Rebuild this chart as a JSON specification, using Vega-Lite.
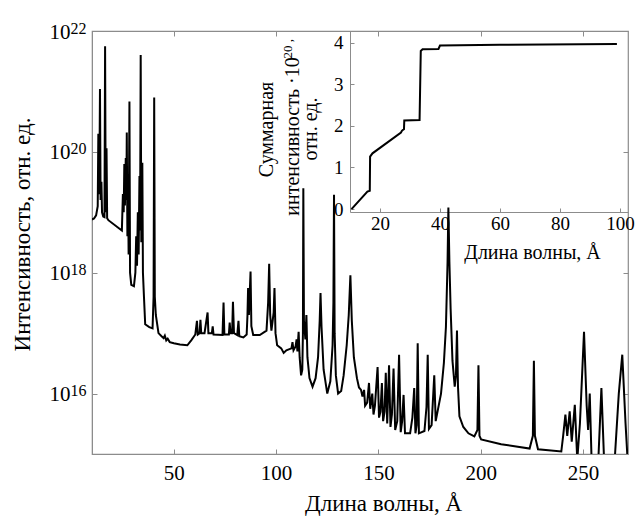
{
  "$schema": "https://vega.github.io/schema/vega-lite/v6.json",
  "width": 536,
  "height": 423,
  "autosize": {"type": "none"},
  "padding": {"left": 92, "top": 31, "right": 11, "bottom": 62},
  "background": "white",
  "config": {
    "view": {"stroke": "#8c8c8c", "strokeWidth": 1.2},
    "font": "Liberation Serif",
    "axis": {"grid": false, "domainColor": "#8c8c8c", "tickColor": "#8c8c8c", "labelColor": "black", "titleColor": "black", "labelFont": "Liberation Serif", "titleFont": "Liberation Serif", "titleFontWeight": "normal"}
  },
  "datasets": {
    "main": [
      {"x": 10.0, "y": 7.6e18}, {"x": 11.0, "y": 7.9e18}, {"x": 12.0, "y": 8.9e18}, {"x": 12.8, "y": 1.26e19},
      {"x": 13.1, "y": 2.0e20}, {"x": 13.35, "y": 2.0e19}, {"x": 13.6, "y": 3.2e19}, {"x": 13.9, "y": 1.1e21},
      {"x": 14.2, "y": 1.6e19}, {"x": 14.6, "y": 3.2e19}, {"x": 14.9, "y": 1.0e19}, {"x": 15.5, "y": 8.5e18},
      {"x": 16.1, "y": 8.3e18}, {"x": 16.4, "y": 5.6e21}, {"x": 16.7, "y": 1.0e19}, {"x": 17.1, "y": 1.15e20},
      {"x": 17.4, "y": 8.0e18}, {"x": 18.0, "y": 7.4e18}, {"x": 24.6, "y": 5.0e18}, {"x": 25.1, "y": 2.0e19},
      {"x": 25.5, "y": 1.0e19}, {"x": 25.8, "y": 6.3e19}, {"x": 26.1, "y": 1.3e19}, {"x": 26.5, "y": 7.9e19},
      {"x": 26.8, "y": 1.6e19}, {"x": 27.0, "y": 2.1e20}, {"x": 27.3, "y": 4.0e18}, {"x": 27.6, "y": 3.2e19},
      {"x": 27.9, "y": 2.0e18}, {"x": 28.3, "y": 6.8e20}, {"x": 28.6, "y": 1.0e18}, {"x": 29.2, "y": 6.3e17},
      {"x": 30.5, "y": 6.0e17}, {"x": 31.2, "y": 1.0e18}, {"x": 31.6, "y": 4.0e18}, {"x": 32.0, "y": 1.3e18},
      {"x": 32.4, "y": 1.0e19}, {"x": 32.8, "y": 2.0e18}, {"x": 33.2, "y": 4.0e19}, {"x": 33.5, "y": 5.0e18},
      {"x": 33.8, "y": 4.0e21}, {"x": 34.1, "y": 3.2e18}, {"x": 34.6, "y": 6.6e19}, {"x": 34.9, "y": 1.0e18},
      {"x": 35.4, "y": 4.0e17}, {"x": 36.0, "y": 1.4e17}, {"x": 38.0, "y": 1.26e17}, {"x": 39.6, "y": 1.2e17},
      {"x": 40.1, "y": 4.0e17}, {"x": 40.4, "y": 7.9e20}, {"x": 40.7, "y": 4.0e17}, {"x": 41.2, "y": 2.0e17},
      {"x": 42.5, "y": 1.0e17}, {"x": 44.0, "y": 8.9e16}, {"x": 45.0, "y": 8.3e16}, {"x": 45.6, "y": 9.1e16},
      {"x": 46.3, "y": 7.6e16}, {"x": 47.0, "y": 8.1e16}, {"x": 48.0, "y": 7.1e16}, {"x": 50.0, "y": 6.8e16},
      {"x": 53.0, "y": 6.5e16}, {"x": 56.6, "y": 6.3e16}, {"x": 58.5, "y": 7.6e16}, {"x": 60.5, "y": 9.5e16},
      {"x": 61.3, "y": 1.6e17}, {"x": 61.7, "y": 9.5e16}, {"x": 62.6, "y": 1.0e17}, {"x": 63.0, "y": 1.66e17},
      {"x": 63.4, "y": 1.0e17}, {"x": 65.0, "y": 1.0e17}, {"x": 66.5, "y": 2.2e17}, {"x": 66.9, "y": 1.0e17},
      {"x": 68.6, "y": 1.0e17}, {"x": 69.0, "y": 1.3e17}, {"x": 69.4, "y": 9.5e16}, {"x": 73.8, "y": 9.3e16},
      {"x": 74.3, "y": 3.2e17}, {"x": 74.7, "y": 9.5e16}, {"x": 76.9, "y": 9.5e16}, {"x": 77.3, "y": 1.5e17},
      {"x": 77.7, "y": 1.0e17}, {"x": 78.5, "y": 1.0e17}, {"x": 78.9, "y": 3.3e17}, {"x": 79.4, "y": 1.0e17},
      {"x": 81.0, "y": 9.3e16}, {"x": 81.6, "y": 1.6e17}, {"x": 82.0, "y": 8.9e16}, {"x": 84.0, "y": 8.5e16},
      {"x": 85.6, "y": 9.5e16}, {"x": 86.0, "y": 2.0e17}, {"x": 86.3, "y": 5.6e17}, {"x": 86.7, "y": 2.0e17},
      {"x": 87.5, "y": 1.05e18}, {"x": 87.9, "y": 1.3e17}, {"x": 88.8, "y": 9.3e16}, {"x": 92.0, "y": 9.3e16},
      {"x": 95.3, "y": 1.1e17}, {"x": 96.1, "y": 3.2e17}, {"x": 96.6, "y": 1.4e18}, {"x": 97.1, "y": 2.0e17},
      {"x": 97.7, "y": 1.1e17}, {"x": 98.3, "y": 1.6e17}, {"x": 98.8, "y": 2.2e17}, {"x": 99.2, "y": 5.6e17},
      {"x": 99.7, "y": 1.0e17}, {"x": 100.5, "y": 6.3e16}, {"x": 102.5, "y": 5.6e16}, {"x": 103.7, "y": 4.7e16},
      {"x": 105.0, "y": 5.2e16}, {"x": 107.5, "y": 5.6e16}, {"x": 108.0, "y": 7.1e16}, {"x": 108.5, "y": 5.2e16},
      {"x": 109.5, "y": 6.0e16}, {"x": 110.0, "y": 7.9e16}, {"x": 110.4, "y": 5.0e16}, {"x": 111.0, "y": 1.05e17},
      {"x": 111.5, "y": 4.0e16}, {"x": 112.2, "y": 2.0e16}, {"x": 112.8, "y": 2.5e16}, {"x": 113.1, "y": 1.0e17},
      {"x": 113.3, "y": 2.5e19}, {"x": 113.6, "y": 1.6e17}, {"x": 114.3, "y": 7.9e16}, {"x": 114.8, "y": 2.0e17},
      {"x": 115.3, "y": 4.0e16}, {"x": 116.3, "y": 1.8e16}, {"x": 117.8, "y": 1.3e16}, {"x": 119.3, "y": 1.8e16},
      {"x": 120.5, "y": 4.0e16}, {"x": 121.3, "y": 1.6e17}, {"x": 121.7, "y": 4.6e17}, {"x": 122.2, "y": 1.26e17},
      {"x": 123.2, "y": 2.5e16}, {"x": 125.0, "y": 1.0e16}, {"x": 126.5, "y": 1.6e16}, {"x": 127.6, "y": 6.3e16},
      {"x": 128.0, "y": 3.2e17}, {"x": 128.3, "y": 1.95e19}, {"x": 128.6, "y": 1.0e17}, {"x": 129.2, "y": 2.0e16},
      {"x": 130.3, "y": 1.0e16}, {"x": 131.8, "y": 1.1e16}, {"x": 133.0, "y": 2.0e16}, {"x": 134.5, "y": 6.3e16},
      {"x": 135.5, "y": 2.0e17}, {"x": 136.3, "y": 9.1e17}, {"x": 137.0, "y": 1.6e17}, {"x": 138.0, "y": 4.0e16},
      {"x": 139.5, "y": 1.8e16}, {"x": 140.5, "y": 1.26e16}, {"x": 141.5, "y": 1.15e16}, {"x": 142.2, "y": 8.9e15},
      {"x": 143.0, "y": 1.15e16}, {"x": 143.5, "y": 6.3e15}, {"x": 144.5, "y": 7.1e15}, {"x": 145.4, "y": 1.5e16},
      {"x": 146.0, "y": 5.6e15}, {"x": 147.0, "y": 1.0e16}, {"x": 147.6, "y": 4.5e15}, {"x": 148.3, "y": 6.3e15},
      {"x": 149.6, "y": 2.75e16}, {"x": 150.3, "y": 4.0e15}, {"x": 151.0, "y": 5.0e15}, {"x": 151.7, "y": 1.5e16},
      {"x": 152.3, "y": 3.5e15}, {"x": 153.0, "y": 5.0e15}, {"x": 153.6, "y": 2.2e16}, {"x": 154.3, "y": 3.2e15},
      {"x": 155.2, "y": 2.95e16}, {"x": 155.9, "y": 2.8e15}, {"x": 156.6, "y": 4.5e15}, {"x": 157.4, "y": 2.6e16},
      {"x": 158.2, "y": 2.5e15}, {"x": 159.2, "y": 3.5e15}, {"x": 160.1, "y": 4.4e16}, {"x": 160.9, "y": 2.3e15},
      {"x": 161.6, "y": 3.5e15}, {"x": 162.3, "y": 9.5e15}, {"x": 163.0, "y": 2.2e15}, {"x": 165.5, "y": 2.2e15},
      {"x": 166.6, "y": 4.0e15}, {"x": 167.5, "y": 1.23e16}, {"x": 168.1, "y": 2.2e15}, {"x": 168.7, "y": 3.0e15},
      {"x": 169.2, "y": 6.8e16}, {"x": 169.8, "y": 2.2e15}, {"x": 172.5, "y": 2.4e15}, {"x": 173.5, "y": 6.0e15},
      {"x": 174.1, "y": 4.4e16}, {"x": 174.7, "y": 2.6e15}, {"x": 176.0, "y": 3.0e15}, {"x": 177.3, "y": 2.0e16},
      {"x": 178.0, "y": 3.5e15}, {"x": 180.6, "y": 1.0e16}, {"x": 182.0, "y": 3.2e16}, {"x": 183.0, "y": 1.26e17},
      {"x": 183.8, "y": 1.5e18}, {"x": 184.2, "y": 1.2e19}, {"x": 184.7, "y": 1.5e18}, {"x": 185.3, "y": 2.5e17},
      {"x": 186.2, "y": 3.5e16}, {"x": 187.3, "y": 1.3e16}, {"x": 187.9, "y": 2.0e16}, {"x": 188.4, "y": 1.1e17},
      {"x": 188.9, "y": 1.3e16}, {"x": 189.6, "y": 4.2e15}, {"x": 191.5, "y": 2.8e15}, {"x": 194.0, "y": 2.2e15},
      {"x": 196.9, "y": 1.95e15}, {"x": 198.4, "y": 2.5e15}, {"x": 198.9, "y": 2.95e16}, {"x": 199.4, "y": 2.0e15},
      {"x": 200.2, "y": 1.74e15}, {"x": 210.0, "y": 1.45e15}, {"x": 223.9, "y": 1.23e15}, {"x": 225.5, "y": 2.0e15},
      {"x": 226.0, "y": 3.5e16}, {"x": 226.5, "y": 2.0e15}, {"x": 228.0, "y": 1.2e15}, {"x": 239.4, "y": 1.1e15},
      {"x": 240.3, "y": 2.0e15}, {"x": 241.4, "y": 4.5e15}, {"x": 242.3, "y": 2.0e15}, {"x": 243.5, "y": 5.1e15},
      {"x": 244.5, "y": 1.6e15}, {"x": 246.0, "y": 6.5e15}, {"x": 247.2, "y": 8e14}, {"x": 248.5, "y": 3.2e15},
      {"x": 250.5, "y": 1.05e17}, {"x": 251.8, "y": 6.3e15}, {"x": 252.5, "y": 2.5e15}, {"x": 253.3, "y": 1.0e16},
      {"x": 254.2, "y": 8e14}, {"x": 257.5, "y": 8e14}, {"x": 259.0, "y": 1.23e16}, {"x": 260.3, "y": 8e14},
      {"x": 265.5, "y": 8e14}, {"x": 267.5, "y": 1.0e16}, {"x": 269.2, "y": 4.4e16}, {"x": 270.8, "y": 3.2e15},
      {"x": 271.8, "y": 8e14}
    ],
    "inset": [
      {"x": 10.5, "y": 0}, {"x": 15.8, "y": 0.42}, {"x": 16.6, "y": 0.44}, {"x": 16.7, "y": 1.26},
      {"x": 17.5, "y": 1.34}, {"x": 27.0, "y": 1.84}, {"x": 27.3, "y": 1.88}, {"x": 27.6, "y": 1.9},
      {"x": 28.0, "y": 1.92}, {"x": 28.1, "y": 2.13}, {"x": 33.2, "y": 2.14}, {"x": 33.6, "y": 3.8},
      {"x": 34.2, "y": 3.84}, {"x": 39.5, "y": 3.85}, {"x": 40.0, "y": 3.93}, {"x": 60.0, "y": 3.95},
      {"x": 99.0, "y": 3.97}
    ]
  },
  "layer": [
    {
      "data": {"name": "main"},
      "mark": {"type": "line", "color": "black", "strokeWidth": 2, "clip": true},
      "encoding": {
        "x": {"field": "x", "type": "quantitative",
          "scale": {"domain": [10, 272], "nice": false, "zero": false},
          "axis": {"orient": "bottom", "values": [50, 100, 150, 200, 250], "tickSize": -5, "labelFontSize": 21, "labelPadding": 13,
            "title": "Длина волны, Å", "titleFontSize": 23, "titleX": 291, "titleY": 56, "titleBaseline": "alphabetic", "titleAlign": "center"}},
        "y": {"field": "y", "type": "quantitative",
          "scale": {"type": "log", "domain": [1e15, 1e22], "nice": false},
          "axis": {"orient": "left", "values": [1e16, 1e18, 1e20, 1e22], "tickSize": -5, "labelFontSize": 21, "labelPadding": 27,
            "labelExpr": "'10'", "labelOffset": 1, "labelBaseline": "middle",
            "title": "Интенсивность, отн. ед.", "titleFontSize": 23, "titleX": -63, "titleY": 203, "titleAngle": -90, "titleBaseline": "alphabetic", "titleAlign": "center"}}
      }
    },
    {
      "data": {"name": "main"},
      "mark": {"type": "point", "opacity": 0},
      "encoding": {
        "x": {"field": "x", "type": "quantitative",
          "scale": {"domain": [10, 272], "nice": false, "zero": false},
          "axis": {"orient": "top", "values": [50, 100, 150, 200, 250], "tickSize": -5, "labels": false, "domain": false, "title": null}},
        "y": {"field": "y", "type": "quantitative",
          "scale": {"type": "log", "domain": [1e15, 1e22], "nice": false},
          "axis": {"orient": "right", "values": [1e16, 1e18, 1e20, 1e22], "tickSize": -5, "labels": false, "domain": false, "title": null}}
      }
    },
    {
      "data": {"name": "inset"},
      "mark": {"type": "line", "color": "black", "strokeWidth": 2},
      "encoding": {
        "x": {"field": "x", "type": "quantitative",
          "scale": {"domain": [10, 102.7], "range": [258, 536], "nice": false, "zero": false},
          "axis": {"orient": "bottom", "offset": -242, "values": [20, 40, 60, 80, 100], "tickSize": -4, "labelFontSize": 19, "labelPadding": 6,
            "title": "Длина волны, Å", "titleFontSize": 20, "titleX": 440, "titleY": 46, "titleBaseline": "alphabetic", "titleAlign": "center"}},
        "y": {"field": "y", "type": "quantitative",
          "scale": {"domain": [-0.07, 4.28], "range": [181, 0], "nice": false, "zero": false},
          "axis": {"orient": "left", "offset": -258, "values": [0, 1, 2, 3, 4], "tickSize": -4, "labelFontSize": 19, "labelPadding": 11,
            "title": "Суммарная", "titleFontSize": 20,
            "titleX": -78, "titleY": 98, "titleAngle": -90, "titleBaseline": "alphabetic", "titleAlign": "center"}}
      }
    },
    {
      "data": {"name": "main"},
      "mark": {"type": "point", "opacity": 0},
      "encoding": {
        "x": {"field": "x", "type": "quantitative",
          "scale": {"domain": [10, 272], "nice": false, "zero": false},
          "axis": {"orient": "bottom", "ticks": false, "labels": false, "domain": false,
            "title": "интенсивность ·10", "titleFontSize": 20, "titleX": 206, "titleY": -318, "titleAngle": -90, "titleBaseline": "alphabetic", "titleAlign": "center"}},
        "y": {"field": "y", "type": "quantitative",
          "scale": {"type": "log", "domain": [1e15, 1e22], "nice": false},
          "axis": {"orient": "left", "values": [1e16, 1e18, 1e20, 1e22], "tickSize": -5, "tickOpacity": 0, "domain": false,
            "labelFontSize": 16, "labelPadding": 27, "labelAlign": "left", "labelBaseline": "middle", "labelOffset": -3,
            "labelExpr": "datum.value < 1e17 ? '16' : datum.value < 1e19 ? '18' : datum.value < 1e21 ? '20' : '22'", "title": null}}
      }
    },
    {
      "data": {"name": "main"},
      "mark": {"type": "point", "opacity": 0},
      "encoding": {
        "x": {"field": "x", "type": "quantitative",
          "scale": {"domain": [10, 272], "nice": false, "zero": false},
          "axis": {"orient": "bottom", "ticks": false, "labels": false, "domain": false,
            "title": "20 ,", "titleFontSize": 13, "titleX": 199, "titleY": -396, "titleAngle": -90, "titleBaseline": "alphabetic", "titleAlign": "left"}},
        "y": {"field": "y", "type": "quantitative",
          "scale": {"type": "log", "domain": [1e15, 1e22], "nice": false},
          "axis": {"orient": "left", "ticks": false, "labels": false, "domain": false,
            "title": "отн. ед.", "titleFontSize": 20, "titleX": 224, "titleY": 97.5, "titleAngle": -90, "titleBaseline": "alphabetic", "titleAlign": "center"}}
      }
    }
  ],
  "resolve": {"scale": {"x": "independent", "y": "independent"}, "axis": {"x": "independent", "y": "independent"}}
}
